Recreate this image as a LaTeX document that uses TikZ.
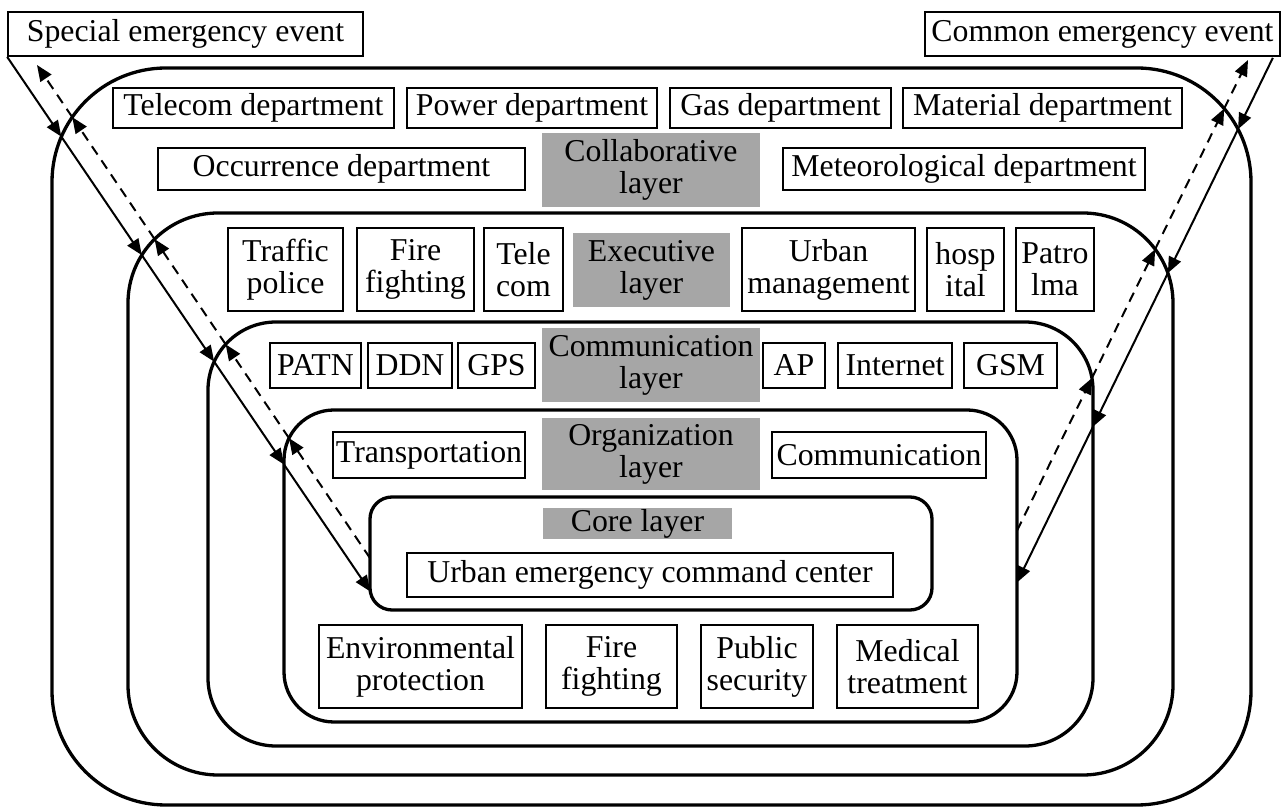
\documentclass[tikz,border=0pt]{standalone}
\usepackage{fontspec}
\setmainfont{Liberation Serif}
\usetikzlibrary{arrows.meta,intersections,calc}
\definecolor{layergray}{RGB}{166,166,166}
\newcommand\mybox[7]{\node[#2, minimum width={(#5-#3)*0.5pt}, minimum height={(#6-#4)*0.5pt}] (#1) at ({(#3+#5)/2},{(#4+#6)/2}) {#7};}
\begin{document}
\begin{tikzpicture}[x=0.5pt, y=-0.5pt, font=\fontsize{15.9}{16}\selectfont,
  box/.style={draw, line width=0.85pt, inner sep=0pt, align=center},
  lbl/.style={fill=layergray, inner sep=0pt, align=center},
  layer/.style={draw, line width=1.65pt},
  flow/.style={line width=1pt, -{Triangle[length=8pt,width=6.5pt]}},
  back/.style={flow, dash pattern=on 5pt off 3.5pt}]
\useasboundingbox (0,0) rectangle (1282,807);

% layers
\draw[layer, rounded corners=57pt, name path=La] (52,68) rectangle (1251,805);
\draw[layer, rounded corners=45pt, name path=Lb] (128,213) rectangle (1173,775);
\draw[layer, rounded corners=34pt, name path=Lc] (208,322) rectangle (1093,746);
\draw[layer, rounded corners=25pt, name path=Ld] (284,410) rectangle (1017,722);
\draw[layer, rounded corners=11pt, name path=Le] (370,497) rectangle (932,610);

% events
\mybox{special}{box}{8}{12}{363}{56}{Special emergency event}
\mybox{common}{box}{925}{12}{1280}{56}{Common emergency event}

% collaborative layer
\mybox{tel}{box}{113}{88}{394}{128}{Telecom department}
\mybox{pow}{box}{407}{88}{657}{128}{Power department}
\mybox{gas}{box}{670}{88}{891}{128}{Gas department}
\mybox{mat}{box}{903}{88}{1182}{128}{Material department}
\mybox{occ}{box}{158}{148}{525}{190}{Occurrence department}
\mybox{collab}{lbl}{542}{133}{760}{207}{Collaborative\\layer}
\mybox{met}{box}{783}{148}{1145}{190}{Meteorological department}

% executive layer
\mybox{traffic}{box}{228}{228}{343}{311}{Traffic\\police}
\mybox{fire1}{box}{357}{228}{474}{311}{Fire\\fighting}
\mybox{telecom}{box}{484}{228}{563}{311}{Tele\\com}
\mybox{exec}{lbl}{573}{233}{730}{307}{Executive\\layer}
\mybox{urban}{box}{742}{228}{915}{311}{Urban\\management}
\mybox{hosp}{box}{927}{228}{1004}{311}{hosp\\ital}
\mybox{patro}{box}{1016}{228}{1094}{311}{Patro\\lma}

% communication layer
\mybox{patn}{box}{270}{343}{361}{388}{PATN}
\mybox{ddn}{box}{368}{343}{452}{388}{DDN}
\mybox{gps}{box}{458}{343}{535}{388}{GPS}
\mybox{comm}{lbl}{542}{328}{760}{402}{Communication\\layer}
\mybox{ap}{box}{763}{343}{825}{388}{AP}
\mybox{inet}{box}{838}{343}{952}{388}{Internet}
\mybox{gsm}{box}{964}{343}{1057}{388}{GSM}

% organization layer
\mybox{transp}{box}{333}{432}{525}{478}{Transportation}
\mybox{org}{lbl}{542}{418}{760}{490}{Organization\\layer}
\mybox{commu}{box}{772}{432}{986}{478}{Communication}

% core layer
\mybox{core}{lbl}{543}{508}{732}{539}{Core layer}
\mybox{uecc}{box}{407}{553}{893}{597}{Urban emergency command center}

% organization bottom row
\mybox{env}{box}{319}{625}{522}{708}{Environmental\\protection}
\mybox{fire2}{box}{546}{625}{677}{708}{Fire\\fighting}
\mybox{pub}{box}{701}{625}{813}{708}{Public\\security}
\mybox{med}{box}{837}{625}{978}{708}{Medical\\treatment}

% connector end points
\coordinate (sa) at (special.south west);
\coordinate (da) at (37,65);
\coordinate (ra) at ($(common.south east)+(-8,1)$);
\coordinate (ea) at (1248,60);

\path[name path=ls] (sa) -- (376,600);
\path[name path=ld] (da) -- (376,567);
\path[name path=rs] (ra) -- (1008,601);
\path[name path=rd] (ea) -- (1008,549);

\path[name intersections={of=La and ls, by=s1}];
\path[name intersections={of=Lb and ls, by=s2}];
\path[name intersections={of=Lc and ls, by=s3}];
\path[name intersections={of=Ld and ls, by=s4}];
\path[name intersections={of=Le and ls, by=s5}];
\path[name intersections={of=La and ld, by=d1}];
\path[name intersections={of=Lb and ld, by=d2}];
\path[name intersections={of=Lc and ld, by=d3}];
\path[name intersections={of=Ld and ld, by=d4}];
\path[name intersections={of=Le and ld, by=d5}];
\path[name intersections={of=La and rs, by=r1}];
\path[name intersections={of=Lb and rs, by=r2}];
\path[name intersections={of=Lc and rs, by=r3}];
\path[name intersections={of=Ld and rs, by=r4}];
\path[name intersections={of=La and rd, by=e1}];
\path[name intersections={of=Lb and rd, by=e2}];
\path[name intersections={of=Lc and rd, by=e3}];
\path[name intersections={of=Ld and rd, by=e4}];

% left: special event
\draw[flow] (sa) -- (s1);
\draw[flow] (s1) -- (s2);
\draw[flow] (s2) -- (s3);
\draw[flow] (s3) -- (s4);
\draw[flow] (s4) -- (s5);
\draw[back] (d5) -- (d4);
\draw[back] (d4) -- (d3);
\draw[back] (d3) -- (d2);
\draw[back] (d2) -- (d1);
\draw[back] (d1) -- (da);

% right: common event
\draw[flow] (ra) -- (r1);
\draw[flow] (r1) -- (r2);
\draw[flow] (r2) -- (r3);
\draw[flow] (r3) -- (r4);
\draw[back] (e4) -- (e3);
\draw[back] (e3) -- (e2);
\draw[back] (e2) -- (e1);
\draw[back] (e1) -- (ea);
\end{tikzpicture}
\end{document}
